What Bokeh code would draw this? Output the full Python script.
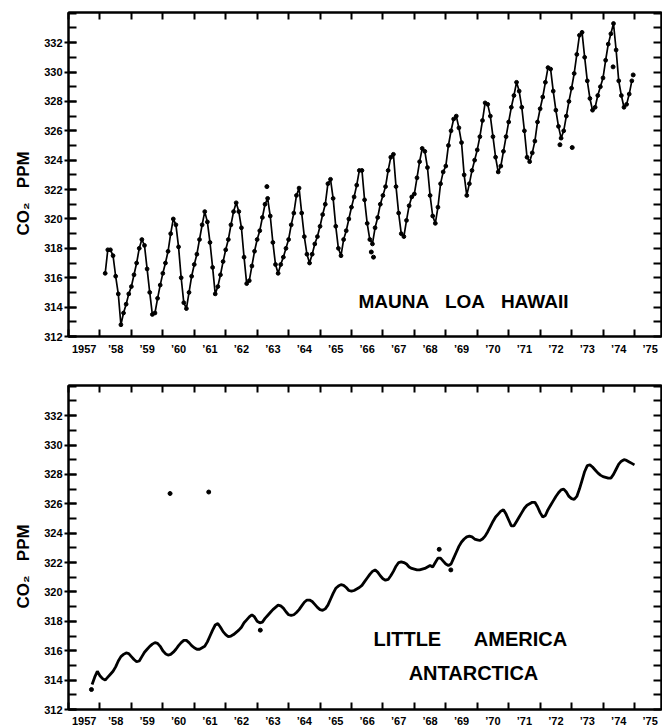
from bokeh.plotting import figure
from bokeh.models import Range1d, FixedTicker, LinearAxis, CustomJSTickFormatter, Label
from bokeh.layouts import column
from bokeh.embed import file_html
from bokeh.resources import INLINE

# ---------------- data ----------------
YEARS = list(range(1957, 1976))
YEAR_LABELS = ["1957", "’58", "’59", "’60", "’61", "’62", "’63", "’64", "’65",
               "’66", "’67", "’68", "’69", "’70", "’71", "’72", "’73", "’74", "’75"]
Y_MAJOR = [312, 314, 316, 318, 320, 322, 324, 326, 328, 330, 332]
Y_MINOR = list(range(312, 335))

# Mauna Loa, monthly, March 1958 - December 1974 (ppm)
ML_START = (1958, 3)
ML_CO2 = [
    316.3, 317.9, 317.9, 317.5, 316.1, 314.9, 312.8, 313.6, 314.2, 314.9,
    315.4, 316.2, 317.0, 318.0, 318.6, 318.2, 316.6, 315.0, 313.5, 313.6, 314.6, 315.5,
    316.3, 317.0, 317.8, 319.0, 320.0, 319.6, 318.1, 316.0, 314.3, 313.9, 315.0, 316.1,
    316.9, 317.6, 318.6, 319.6, 320.5, 319.8, 318.4, 316.7, 314.9, 315.4, 316.2, 317.1,
    317.9, 318.6, 319.6, 320.5, 321.1, 320.5, 319.4, 317.4, 315.6, 315.8, 316.8, 317.8,
    318.6, 319.2, 320.1, 321.0, 321.4, 320.2, 318.4, 316.9, 316.3, 316.9, 317.4, 318.0,
    318.6, 319.6, 320.4, 321.6, 322.1, 320.4, 318.8, 317.6, 317.0, 317.6, 318.3, 318.8,
    319.5, 320.3, 321.0, 322.4, 322.7, 321.4, 319.5, 318.0, 317.5, 318.6, 319.2, 320.0,
    320.8, 321.5, 322.3, 323.3, 323.3, 321.3, 319.7, 318.6, 318.3, 319.4, 320.1, 321.0,
    321.6, 322.2, 323.3, 324.2, 324.4, 322.2, 320.4, 319.0, 318.8, 319.9, 320.9, 321.5,
    321.7, 322.8, 323.9, 324.8, 324.6, 323.5, 321.6, 320.2, 319.7, 320.8, 322.4, 323.2,
    323.6, 325.0, 326.0, 326.8, 327.0, 326.2, 325.2, 323.0, 321.6, 322.4, 323.3, 324.0,
    324.7, 325.6, 326.7, 327.9, 327.8, 327.0, 325.6, 324.2, 323.2, 323.6, 324.6, 325.6,
    326.6, 327.6, 328.4, 329.3, 328.7, 327.6, 326.0, 324.2, 323.9, 324.5, 325.3, 326.6,
    327.5, 328.3, 329.3, 330.3, 330.2, 328.7, 327.4, 326.3, 325.5, 326.0, 327.0, 328.0,
    328.9, 329.9, 331.2, 332.5, 332.7, 331.0, 329.4, 328.2, 327.4, 327.6, 328.4, 329.0,
    329.6, 330.8, 331.9, 332.6, 333.3, 331.5, 329.4, 328.4, 327.6, 327.8, 328.5, 329.4,
]
ML_EXTRA_YEAR = [1963.31, 1966.63, 1966.70, 1972.63, 1973.02, 1974.32, 1974.96]
ML_EXTRA_CO2 = [322.2, 317.75, 317.4, 325.05, 324.86, 330.35, 329.8]

# Little America, monthly, October 1957 - January 1975 (ppm)
ANT_START = (1957, 10)
ANT_CO2 = [
    313.7, 314.2, 314.6,
    314.3, 314.1, 314.0, 314.2, 314.4, 314.6, 314.9, 315.3, 315.6, 315.75, 315.85, 315.8,
    315.6, 315.4, 315.25, 315.3, 315.6, 315.9, 316.1, 316.3, 316.45, 316.55, 316.5, 316.3,
    316.0, 315.8, 315.7, 315.75, 315.9, 316.1, 316.35, 316.55, 316.7, 316.7, 316.55, 316.35,
    316.2, 316.1, 316.1, 316.2, 316.3, 316.6, 317.0, 317.4, 317.75, 317.85, 317.6, 317.3,
    317.1, 316.95, 317.0, 317.1, 317.25, 317.4, 317.6, 317.9, 318.1, 318.3, 318.45, 318.3,
    318.0, 317.9, 317.95, 318.2, 318.4, 318.6, 318.8, 318.95, 319.1, 319.05, 318.9, 318.65,
    318.45, 318.4, 318.45, 318.6, 318.8, 319.05, 319.3, 319.45, 319.45, 319.35, 319.15, 318.95,
    318.8, 318.75, 318.85, 319.1, 319.5, 319.9, 320.25, 320.4, 320.5, 320.45, 320.3, 320.1,
    320.05, 320.1, 320.2, 320.3, 320.45, 320.7, 320.95, 321.2, 321.4, 321.5, 321.35, 321.1,
    320.9, 320.8, 320.85, 321.1, 321.4, 321.75, 322.0, 322.05, 322.0, 321.9, 321.7, 321.6,
    321.55, 321.5, 321.5, 321.55, 321.6, 321.7, 321.8, 321.7, 322.0, 322.3, 322.3, 322.1,
    321.9, 321.8, 321.9, 322.3, 322.7, 323.1, 323.4, 323.6, 323.75, 323.8, 323.75, 323.6,
    323.55, 323.5, 323.6, 323.8, 324.1, 324.45, 324.8, 325.1, 325.3, 325.5, 325.6, 325.3,
    324.9, 324.5, 324.5, 324.8, 325.1, 325.4, 325.7, 325.9, 326.0, 326.1, 326.1, 325.8,
    325.4, 325.1, 325.2, 325.6, 325.9, 326.2, 326.5, 326.75, 326.95, 327.0, 326.8, 326.5,
    326.35, 326.3, 326.5, 327.0, 327.6, 328.2, 328.6, 328.65, 328.5, 328.3, 328.1, 327.95,
    327.85, 327.8, 327.75, 327.75, 328.0, 328.35, 328.7, 328.9, 329.0, 328.95, 328.85, 328.75,
    328.65,
]
ANT_EXTRA_YEAR = [1957.73, 1960.23, 1961.46, 1963.10, 1968.79, 1969.16]
ANT_EXTRA_CO2 = [313.36, 326.7, 326.8, 317.4, 322.9, 321.5]

ML_TITLE = "MAUNA\u00a0\u00a0 LOA\u00a0\u00a0 HAWAII"
ANT_TITLE_1 = "LITTLE\u00a0\u00a0\u00a0\u00a0\u00a0 AMERICA"
ANT_TITLE_2 = "ANTARCTICA"
Y_TITLE = "CO₂\u00a0\u00a0 PPM" + "\u00a0" * 8

FONT = "Liberation Sans"


def month_positions(start, n):
    y0, m0 = start
    out = []
    for i in range(n):
        mm = m0 - 1 + i
        out.append(y0 + mm // 12 + (mm % 12) / 12.0)
    return out


def make_panel(border_top, border_bottom, label_standoff):
    p = figure(frame_width=593, frame_height=324,
               x_range=Range1d(1957, 1975.86), y_range=Range1d(312, 334.05),
               x_axis_location=None, y_axis_location=None,
               toolbar_location=None, output_backend="svg",
               min_border_left=68, min_border_right=1,
               min_border_top=border_top, min_border_bottom=border_bottom,
               background_fill_color="white", border_fill_color="white")
    p.outline_line_color = "black"
    p.outline_line_width = 2
    p.grid.grid_line_color = None

    blank = CustomJSTickFormatter(code="return '';")

    xb = LinearAxis(
        ticker=FixedTicker(ticks=[y + 0.5 for y in YEARS], minor_ticks=[float(y) for y in YEARS]),
        formatter=CustomJSTickFormatter(
            args=dict(labels=YEAR_LABELS, first=YEARS[0]),
            code="const i = Math.round(tick - 0.5) - first; return (i >= 0 && i < labels.length) ? labels[i] : '';"))
    xb.major_tick_line_color = None
    xb.major_tick_in = 0
    xb.major_tick_out = 0
    xb.minor_tick_in = 7
    xb.minor_tick_out = 0
    xb.minor_tick_line_width = 2
    xb.minor_tick_line_color = "black"
    xb.axis_line_width = 2
    xb.axis_line_color = "black"
    xb.major_label_standoff = label_standoff
    xb.major_label_text_font = FONT
    xb.major_label_text_font_size = "11px"
    xb.major_label_text_font_style = "bold"
    xb.major_label_text_color = "black"
    p.add_layout(xb, "below")

    xt = LinearAxis(ticker=FixedTicker(ticks=[float(y) for y in YEARS]), formatter=blank)
    xt.major_tick_in = 7
    xt.major_tick_out = 0
    xt.major_tick_line_width = 2
    xt.axis_line_width = 2
    xt.major_label_standoff = 0
    xt.major_label_text_font_size = "0px"
    p.add_layout(xt, "above")

    yl = LinearAxis(ticker=FixedTicker(ticks=Y_MAJOR, minor_ticks=Y_MINOR))
    yl.major_tick_in = 8
    yl.major_tick_out = 4
    yl.minor_tick_in = 8
    yl.minor_tick_out = 0
    yl.major_tick_line_width = 2
    yl.minor_tick_line_width = 2
    yl.minor_tick_line_color = "black"
    yl.axis_line_width = 2
    yl.major_label_standoff = 2
    yl.major_label_text_font = FONT
    yl.major_label_text_font_size = "11px"
    yl.major_label_text_font_style = "bold"
    yl.major_label_text_color = "black"
    yl.axis_label = Y_TITLE
    yl.axis_label_standoff = 8
    yl.axis_label_text_font = FONT
    yl.axis_label_text_font_size = "17px"
    yl.axis_label_text_font_style = "bold"
    yl.axis_label_text_color = "black"
    p.add_layout(yl, "left")

    yr = LinearAxis(ticker=FixedTicker(ticks=Y_MINOR), formatter=blank)
    yr.major_tick_in = 8
    yr.major_tick_out = 0
    yr.major_tick_line_width = 2
    yr.axis_line_width = 2
    yr.major_label_standoff = 0
    yr.major_label_text_font_size = "0px"
    p.add_layout(yr, "right")
    return p


# ---------------- top: Mauna Loa ----------------
p1 = make_panel(12, 25, 6)
ml_x = month_positions(ML_START, len(ML_CO2))
p1.line(ml_x, ML_CO2, line_color="black", line_width=1.7)
p1.scatter(ml_x, ML_CO2, size=3.8, color="black")
p1.scatter(ML_EXTRA_YEAR, ML_EXTRA_CO2, size=4, color="black")
p1.add_layout(Label(x=1969.56, y=314.4, text=ML_TITLE, text_font=FONT, text_font_size="19px",
                    text_font_style="bold", text_color="black", text_align="center",
                    text_baseline="middle"))

# ---------------- bottom: Little America ----------------
p2 = make_panel(24, 18, 5)
ant_x = month_positions(ANT_START, len(ANT_CO2))
p2.line(ant_x, ANT_CO2, line_color="black", line_width=2.8)
p2.scatter(ANT_EXTRA_YEAR, ANT_EXTRA_CO2, size=4, color="black")
p2.add_layout(Label(x=1969.79, y=316.8, text=ANT_TITLE_1, text_font=FONT, text_font_size="20px",
                    text_font_style="bold", text_color="black", text_align="center",
                    text_baseline="middle"))
p2.add_layout(Label(x=1969.88, y=314.5, text=ANT_TITLE_2, text_font=FONT, text_font_size="20px",
                    text_font_style="bold", text_color="black", text_align="center",
                    text_baseline="middle"))

layout = column(p1, p2, spacing=0)
open("out.html", "w").write(file_html(layout, INLINE))
